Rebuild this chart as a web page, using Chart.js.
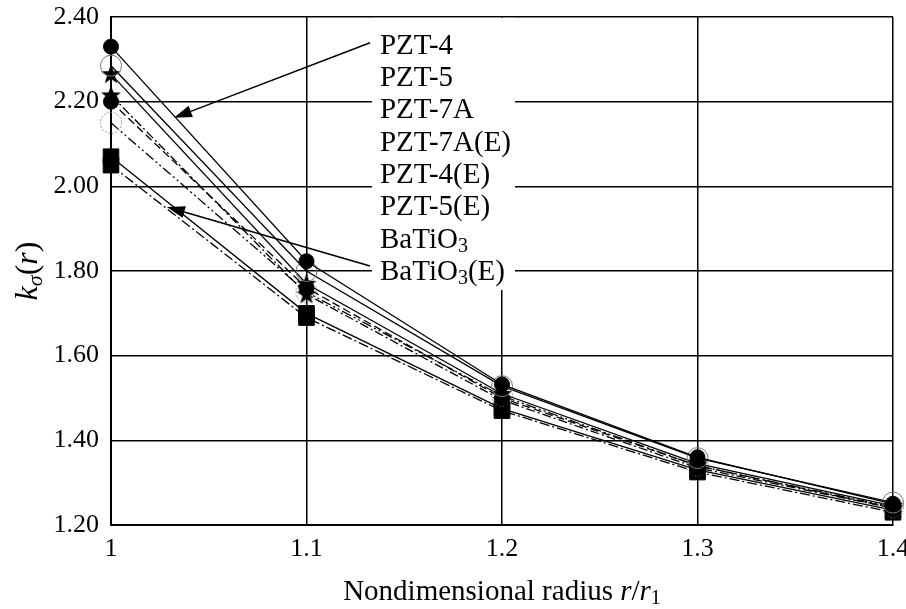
<!DOCTYPE html>
<html>
<head>
<meta charset="utf-8">
<script src="https://cdn.jsdelivr.net/npm/chart.js@4.4.1/dist/chart.umd.min.js"></script>
<style>
  html, body { margin: 0; padding: 0; background: #fff; }
</style>
</head>
<body>
<canvas id="chart" width="906" height="609"></canvas>
<script>
// nondimensional radius r/r1
const radius = [1, 1.1, 1.2, 1.3, 1.4];

// k_sigma(r)
const pzt4   = [2.330, 1.823, 1.532, 1.360, 1.250];
const pzt5   = [2.285, 1.800, 1.528, 1.358, 1.253];
const pzt7a  = [2.265, 1.770, 1.510, 1.345, 1.245];
const pzt7aE = [2.215, 1.745, 1.495, 1.335, 1.240];
const pzt4E  = [2.200, 1.760, 1.500, 1.340, 1.240];
const pzt5E  = [2.150, 1.750, 1.505, 1.340, 1.242];
const bto    = [2.070, 1.700, 1.475, 1.330, 1.235];
const btoE   = [2.050, 1.690, 1.470, 1.325, 1.230];

const seriesNames = ['PZT-4', 'PZT-5', 'PZT-7A', 'PZT-7A(E)', 'PZT-4(E)', 'PZT-5(E)', 'BaTiO3', 'BaTiO3(E)'];
const seriesValues = [pzt4, pzt5, pzt7a, pzt7aE, pzt4E, pzt5E, bto, btoE];

const xTicks = [1, 1.1, 1.2, 1.3, 1.4];
const yTicks = [1.2, 1.4, 1.6, 1.8, 2.0, 2.2, 2.4];

// legend box corner and the two pointer arrows, in data units
const legendCorner = [1.1335, 2.398];
const arrows = [
  [1.1325, 2.339, 1.0322, 2.162],
  [1.1325, 1.812, 1.0286, 1.951]
];

const SERIF = '"Liberation Serif", "Times New Roman", serif';

function makeStar() {
  const c = document.createElement('canvas');
  c.width = 22; c.height = 22;
  const g = c.getContext('2d');
  g.beginPath();
  for (let i = 0; i < 10; i++) {
    const r = i % 2 ? 4.2 : 10.5;
    const a = -Math.PI / 2 + i * Math.PI / 5;
    g.lineTo(11 + r * Math.cos(a), 11.5 + r * Math.sin(a));
  }
  g.closePath();
  g.fillStyle = '#000';
  g.fill();
  return c;
}

function makeDottedCircle() {
  const c = document.createElement('canvas');
  c.width = 24; c.height = 24;
  const g = c.getContext('2d');
  g.setLineDash([1.5, 2]);
  g.strokeStyle = '#777';
  g.lineWidth = 1;
  g.beginPath();
  g.arc(12, 12, 10.5, 0, Math.PI * 2);
  g.stroke();
  return c;
}

const star = makeStar();
const dotted = makeDottedCircle();

const styles = [
  { dash: [], point: 'circle', r: 7.5, bg: '#000', bc: '#000' },
  { dash: [], point: 'circle', r: 10.5, bg: 'rgba(0,0,0,0)', bc: '#777' },
  { dash: [], point: star, r: 10, bg: '#000', bc: '#000' },
  { dash: [9, 3, 2, 3], point: star, r: 10, bg: '#000', bc: '#000' },
  { dash: [8, 4], point: 'circle', r: 7.5, bg: '#000', bc: '#000' },
  { dash: [10, 3, 2, 3, 2, 3], point: dotted, r: 10, bg: '#000', bc: '#000' },
  { dash: [], point: 'rect', r: 11, bg: '#000', bc: '#000' },
  { dash: [10, 3, 2, 3], point: 'rect', r: 11, bg: '#000', bc: '#000' }
];

const datasets = seriesValues.map((vals, i) => ({
  label: seriesNames[i],
  data: vals.map((v, j) => ({ x: radius[j], y: v })),
  borderColor: '#000',
  borderWidth: 1.3,
  borderDash: styles[i].dash,
  pointStyle: styles[i].point,
  pointRadius: styles[i].r,
  pointBackgroundColor: styles[i].bg,
  pointBorderColor: styles[i].bc,
  pointBorderWidth: 1,
  tension: 0,
  clip: false
}));

function toRuns(label) {
  const m = label.match(/^(.*O)3(.*)$/);
  if (m) return [{ t: m[1] }, { t: '3', sub: true }, { t: m[2] }];
  return [{ t: label }];
}

function drawRuns(ctx, runs, x, y, size, align) {
  const fontOf = r => (r.it ? 'italic ' : '') + Math.round(r.sub ? size * 0.68 : size) + 'px ' + SERIF;
  let total = 0;
  runs.forEach(r => { ctx.font = fontOf(r); total += ctx.measureText(r.t).width; });
  let cx = align === 'center' ? x - total / 2 : x;
  ctx.textAlign = 'left';
  ctx.textBaseline = 'alphabetic';
  runs.forEach(r => {
    ctx.font = fontOf(r);
    ctx.fillText(r.t, cx, y + (r.sub ? size * 0.15 : 0));
    cx += ctx.measureText(r.t).width;
  });
}

const annotate = {
  id: 'annotate',
  beforeDatasetsDraw(chart) {
    const { ctx, scales: { x, y } } = chart;
    const left = x.getPixelForValue(legendCorner[0]);
    const top = y.getPixelForValue(legendCorner[1]);
    ctx.save();
    ctx.fillStyle = '#fff';
    ctx.fillRect(left, top, 143, 272);
    ctx.fillStyle = '#000';
    seriesNames.forEach((name, i) => {
      drawRuns(ctx, toRuns(name), left + 8, top + 36 + i * 32.3, 29, 'left');
    });
    ctx.restore();
  },
  afterDatasetsDraw(chart) {
    const { ctx, scales: { x, y } } = chart;
    ctx.save();
    ctx.strokeStyle = '#000';
    ctx.fillStyle = '#000';
    ctx.lineWidth = 1.5;
    arrows.forEach(([x0, y0, x1, y1]) => {
      const ax = x.getPixelForValue(x0), ay = y.getPixelForValue(y0);
      const bx = x.getPixelForValue(x1), by = y.getPixelForValue(y1);
      const ang = Math.atan2(by - ay, bx - ax);
      const len = 18, half = 6;
      const hx = bx - len * Math.cos(ang), hy = by - len * Math.sin(ang);
      ctx.beginPath();
      ctx.moveTo(ax, ay);
      ctx.lineTo(hx, hy);
      ctx.stroke();
      ctx.beginPath();
      ctx.moveTo(bx, by);
      ctx.lineTo(hx + half * Math.sin(ang), hy - half * Math.cos(ang));
      ctx.lineTo(hx - half * Math.sin(ang), hy + half * Math.cos(ang));
      ctx.closePath();
      ctx.fill();
    });
    ctx.restore();
  },
  afterDraw(chart) {
    const { ctx, chartArea } = chart;
    ctx.save();
    ctx.fillStyle = '#000';
    // x axis title
    drawRuns(ctx, [
      { t: 'Nondimensional radius ' },
      { t: 'r', it: true }, { t: '/' }, { t: 'r', it: true }, { t: '1', sub: true }
    ], (chartArea.left + chartArea.right) / 2, 600, 29, 'center');
    // y axis title
    ctx.translate(37, (chartArea.top + chartArea.bottom) / 2);
    ctx.rotate(-Math.PI / 2);
    drawRuns(ctx, [
      { t: 'k', it: true }, { t: 'σ', it: true, sub: true },
      { t: '(' }, { t: 'r', it: true }, { t: ')' }
    ], 0, 0, 32, 'center');
    ctx.restore();
  }
};

const tickFont = { family: SERIF, size: 26 };

new Chart(document.getElementById('chart'), {
  type: 'line',
  data: { datasets },
  options: {
    responsive: false,
    animation: false,
    events: [],
    layout: { padding: { top: 17, right: 13, left: 0, bottom: 0 } },
    plugins: { legend: { display: false }, tooltip: { enabled: false } },
    scales: {
      x: {
        type: 'linear',
        min: 1,
        max: 1.4,
        afterBuildTicks: s => { s.ticks = xTicks.map(v => ({ value: v })); },
        afterFit: s => { s.height = 84; s.paddingLeft = 0; s.paddingRight = 0; },
        ticks: { font: tickFont, color: '#000', padding: 9, maxRotation: 0, autoSkip: false, callback: v => String(v) },
        grid: { color: '#000', lineWidth: 1.5, drawTicks: false },
        border: { color: '#000', width: 2 }
      },
      y: {
        min: 1.2,
        max: 2.4,
        afterBuildTicks: s => { s.ticks = yTicks.map(v => ({ value: v })); },
        afterFit: s => { s.width = 111; s.paddingTop = 0; s.paddingBottom = 0; },
        ticks: { font: tickFont, color: '#000', padding: 12, callback: v => v.toFixed(2) },
        grid: { color: '#000', lineWidth: 1.5, drawTicks: false },
        border: { color: '#000', width: 2 }
      }
    }
  },
  plugins: [annotate]
});
</script>
</body>
</html>
